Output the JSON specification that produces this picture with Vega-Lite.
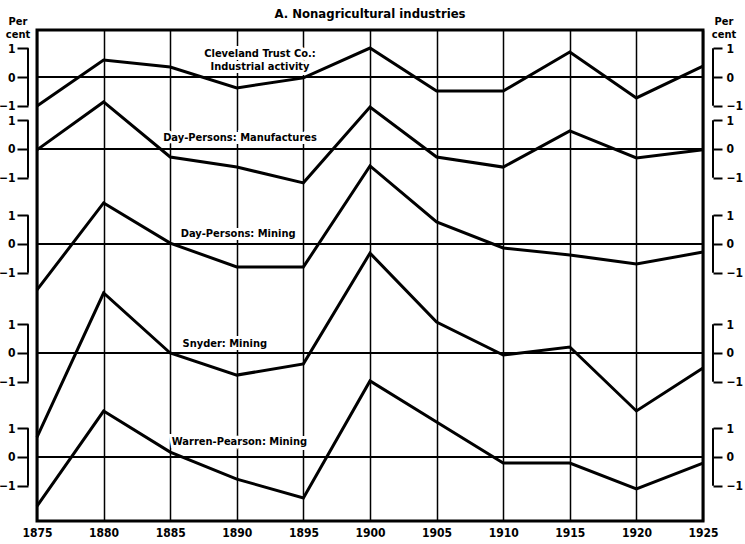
{
  "$schema": "https://vega.github.io/schema/vega-lite/v6.json",
  "width": 666,
  "height": 491,
  "autosize": {"type": "none"},
  "padding": {"left": 37, "top": 30, "right": 42, "bottom": 23},
  "background": "white",
  "title": {"text": "A. Nonagricultural industries", "anchor": "middle", "frame": "group", "offset": -5, "font": "DejaVu Sans Condensed", "fontSize": 13, "fontWeight": "bold", "color": "black"},
  "config": {
    "view": {"stroke": "black", "strokeWidth": 3},
    "axis": {"labelFont": "DejaVu Sans Condensed", "labelFontWeight": "bold", "labelColor": "black", "labelFontSize": 12, "tickColor": "black"},
    "text": {"font": "DejaVu Sans Condensed", "fontWeight": "bold", "color": "black"}
  },
  "data": {"values": [
    {"series": "Cleveland", "year": 1875, "value": -1.01},
    {"series": "Cleveland", "year": 1880, "value": 0.59},
    {"series": "Cleveland", "year": 1885, "value": 0.35},
    {"series": "Cleveland", "year": 1890, "value": -0.38},
    {"series": "Cleveland", "year": 1895, "value": -0.03},
    {"series": "Cleveland", "year": 1900, "value": 1.01},
    {"series": "Cleveland", "year": 1905, "value": -0.49},
    {"series": "Cleveland", "year": 1910, "value": -0.49},
    {"series": "Cleveland", "year": 1915, "value": 0.87},
    {"series": "Cleveland", "year": 1920, "value": -0.73},
    {"series": "Cleveland", "year": 1925, "value": 0.38},
    {"series": "DPManufactures", "year": 1875, "value": -0.03},
    {"series": "DPManufactures", "year": 1880, "value": 1.64},
    {"series": "DPManufactures", "year": 1885, "value": -0.28},
    {"series": "DPManufactures", "year": 1890, "value": -0.63},
    {"series": "DPManufactures", "year": 1895, "value": -1.18},
    {"series": "DPManufactures", "year": 1900, "value": 1.46},
    {"series": "DPManufactures", "year": 1905, "value": -0.28},
    {"series": "DPManufactures", "year": 1910, "value": -0.63},
    {"series": "DPManufactures", "year": 1915, "value": 0.63},
    {"series": "DPManufactures", "year": 1920, "value": -0.31},
    {"series": "DPManufactures", "year": 1925, "value": -0.03},
    {"series": "DPMining", "year": 1875, "value": -1.6},
    {"series": "DPMining", "year": 1880, "value": 1.43},
    {"series": "DPMining", "year": 1885, "value": 0.03},
    {"series": "DPMining", "year": 1890, "value": -0.8},
    {"series": "DPMining", "year": 1895, "value": -0.8},
    {"series": "DPMining", "year": 1900, "value": 2.72},
    {"series": "DPMining", "year": 1905, "value": 0.77},
    {"series": "DPMining", "year": 1910, "value": -0.14},
    {"series": "DPMining", "year": 1915, "value": -0.38},
    {"series": "DPMining", "year": 1920, "value": -0.7},
    {"series": "DPMining", "year": 1925, "value": -0.28},
    {"series": "Snyder", "year": 1875, "value": -2.93},
    {"series": "Snyder", "year": 1880, "value": 2.09},
    {"series": "Snyder", "year": 1885, "value": 0.0},
    {"series": "Snyder", "year": 1890, "value": -0.77},
    {"series": "Snyder", "year": 1895, "value": -0.38},
    {"series": "Snyder", "year": 1900, "value": 3.48},
    {"series": "Snyder", "year": 1905, "value": 1.08},
    {"series": "Snyder", "year": 1910, "value": -0.07},
    {"series": "Snyder", "year": 1915, "value": 0.21},
    {"series": "Snyder", "year": 1920, "value": -2.02},
    {"series": "Snyder", "year": 1925, "value": -0.52},
    {"series": "Warren", "year": 1875, "value": -1.71},
    {"series": "Warren", "year": 1880, "value": 1.6},
    {"series": "Warren", "year": 1885, "value": 0.17},
    {"series": "Warren", "year": 1890, "value": -0.77},
    {"series": "Warren", "year": 1895, "value": -1.43},
    {"series": "Warren", "year": 1900, "value": 2.65},
    {"series": "Warren", "year": 1905, "value": 1.22},
    {"series": "Warren", "year": 1910, "value": -0.21},
    {"series": "Warren", "year": 1915, "value": -0.21},
    {"series": "Warren", "year": 1920, "value": -1.11},
    {"series": "Warren", "year": 1925, "value": -0.21}
  ]},
  "layer": [
    {
      "layer": [
        {"data": {"values": [{}]}, "mark": {"type": "text", "fontSize": 11, "lineHeight": 12.5, "align": "center", "baseline": "alphabetic", "dx": -19},
         "encoding": {"x": {"datum": 1875, "type": "quantitative", "scale": {"domain": [1875, 1925], "nice": false, "zero": false}, "axis": {"values": [1875, 1880, 1885, 1890, 1895, 1900, 1905, 1910, 1915, 1920, 1925], "format": "d", "grid": true, "gridColor": "black", "gridWidth": 1.5, "gridOpacity": 1, "domain": false, "ticks": false, "labelPadding": 6, "labelFlush": false, "title": null}},
                      "y": {"datum": 1.81, "type": "quantitative", "scale": {"domain": [-15.47, 1.6376], "nice": false, "zero": false}, "axis": null},
                      "text": {"value": ["Per", "cent"]}}},
        {"data": {"values": [{}]}, "mark": {"type": "text", "fontSize": 11, "lineHeight": 12.5, "align": "center", "baseline": "alphabetic", "dx": 21},
         "encoding": {"x": {"datum": 1925, "type": "quantitative", "scale": {"domain": [1875, 1925], "nice": false, "zero": false}, "axis": {"values": [1875, 1880, 1885, 1890, 1895, 1900, 1905, 1910, 1915, 1920, 1925], "format": "d", "grid": true, "gridColor": "black", "gridWidth": 1.5, "gridOpacity": 1, "domain": false, "ticks": false, "labelPadding": 6, "labelFlush": false, "title": null}},
                      "y": {"datum": 1.81, "type": "quantitative", "scale": {"domain": [-15.47, 1.6376], "nice": false, "zero": false}, "axis": null},
                      "text": {"value": ["Per", "cent"]}}},
        {"data": {"values": [{}]}, "mark": {"type": "text", "fontSize": 11, "lineHeight": 13, "align": "center", "baseline": "alphabetic", "stroke": "white", "strokeWidth": 6},
         "encoding": {"x": {"datum": 1891.74, "type": "quantitative", "scale": {"domain": [1875, 1925], "nice": false, "zero": false}, "axis": {"values": [1875, 1880, 1885, 1890, 1895, 1900, 1905, 1910, 1915, 1920, 1925], "format": "d", "grid": true, "gridColor": "black", "gridWidth": 1.5, "gridOpacity": 1, "domain": false, "ticks": false, "labelPadding": 6, "labelFlush": false, "title": null}},
                      "y": {"datum": 0.7, "type": "quantitative", "scale": {"domain": [-15.47, 1.6376], "nice": false, "zero": false}, "axis": null},
                      "text": {"value": ["Cleveland Trust Co.:", "Industrial activity"]}}},
        {"data": {"values": [{}]}, "mark": {"type": "text", "fontSize": 11, "lineHeight": 13, "align": "center", "baseline": "alphabetic"},
         "encoding": {"x": {"datum": 1891.74, "type": "quantitative", "scale": {"domain": [1875, 1925], "nice": false, "zero": false}, "axis": {"values": [1875, 1880, 1885, 1890, 1895, 1900, 1905, 1910, 1915, 1920, 1925], "format": "d", "grid": true, "gridColor": "black", "gridWidth": 1.5, "gridOpacity": 1, "domain": false, "ticks": false, "labelPadding": 6, "labelFlush": false, "title": null}},
                      "y": {"datum": 0.7, "type": "quantitative", "scale": {"domain": [-15.47, 1.6376], "nice": false, "zero": false}, "axis": null},
                      "text": {"value": ["Cleveland Trust Co.:", "Industrial activity"]}}},
        {"data": {"values": [{}]}, "mark": {"type": "rule", "color": "black", "strokeWidth": 2},
         "encoding": {"y": {"datum": 0, "type": "quantitative", "scale": {"domain": [-15.47, 1.6376], "nice": false, "zero": false}, "axis": null}}},
        {"data": {"values": [{}]}, "mark": {"type": "rule", "color": "black", "strokeWidth": 2, "xOffset": -9},
         "encoding": {"x": {"datum": 1875, "type": "quantitative", "scale": {"domain": [1875, 1925], "nice": false, "zero": false}, "axis": {"values": [1875, 1880, 1885, 1890, 1895, 1900, 1905, 1910, 1915, 1920, 1925], "format": "d", "grid": true, "gridColor": "black", "gridWidth": 1.5, "gridOpacity": 1, "domain": false, "ticks": false, "labelPadding": 6, "labelFlush": false, "title": null}},
                      "y": {"datum": -1, "type": "quantitative", "scale": {"domain": [-15.47, 1.6376], "nice": false, "zero": false}, "axis": {"orient": "left", "offset": 9, "values": [-1, 0, 1], "domain": false, "grid": false, "ticks": true, "tickSize": 11, "tickWidth": 2, "labelPadding": 2, "labelFlush": false, "labelOverlap": false, "title": null}},
                      "y2": {"datum": 1}}},
        {"data": {"values": [{}]}, "mark": {"type": "rule", "color": "black", "strokeWidth": 2, "xOffset": 10},
         "encoding": {"x": {"datum": 1925, "type": "quantitative", "scale": {"domain": [1875, 1925], "nice": false, "zero": false}, "axis": {"values": [1875, 1880, 1885, 1890, 1895, 1900, 1905, 1910, 1915, 1920, 1925], "format": "d", "grid": true, "gridColor": "black", "gridWidth": 1.5, "gridOpacity": 1, "domain": false, "ticks": false, "labelPadding": 6, "labelFlush": false, "title": null}},
                      "y": {"datum": -1, "type": "quantitative", "scale": {"domain": [-15.47, 1.6376], "nice": false, "zero": false}, "axis": {"orient": "right", "offset": 10, "values": [-1, 0, 1], "domain": false, "grid": false, "ticks": true, "tickSize": 9, "tickWidth": 2, "labelPadding": 4, "labelFlush": false, "labelOverlap": false, "title": null}},
                      "y2": {"datum": 1}}},
        {"transform": [{"filter": "datum.series === 'Cleveland'"}], "mark": {"type": "line", "color": "black", "strokeWidth": 3, "strokeJoin": "miter"},
         "encoding": {"x": {"field": "year", "type": "quantitative", "scale": {"domain": [1875, 1925], "nice": false, "zero": false}, "axis": {"values": [1875, 1880, 1885, 1890, 1895, 1900, 1905, 1910, 1915, 1920, 1925], "format": "d", "grid": true, "gridColor": "black", "gridWidth": 1.5, "gridOpacity": 1, "domain": false, "ticks": false, "labelPadding": 6, "labelFlush": false, "title": null}},
                      "y": {"field": "value", "type": "quantitative", "scale": {"domain": [-15.47, 1.6376], "nice": false, "zero": false}, "axis": null}}}
      ],
      "resolve": {"scale": {"y": "shared"}, "axis": {"y": "independent"}}
    },
    {
      "layer": [
        {"data": {"values": [{}]}, "mark": {"type": "text", "fontSize": 11, "align": "center", "baseline": "alphabetic", "stroke": "white", "strokeWidth": 6},
         "encoding": {"x": {"datum": 1890.24, "type": "quantitative", "scale": {"domain": [1875, 1925], "nice": false, "zero": false}, "axis": {"values": [1875, 1880, 1885, 1890, 1895, 1900, 1905, 1910, 1915, 1920, 1925], "format": "d", "grid": true, "gridColor": "black", "gridWidth": 1.5, "gridOpacity": 1, "domain": false, "ticks": false, "labelPadding": 6, "labelFlush": false, "title": null}},
                      "y": {"datum": 0.28, "type": "quantitative", "scale": {"domain": [-12.962, 4.146], "nice": false, "zero": false}, "axis": null},
                      "text": {"value": "Day-Persons: Manufactures"}}},
        {"data": {"values": [{}]}, "mark": {"type": "text", "fontSize": 11, "align": "center", "baseline": "alphabetic"},
         "encoding": {"x": {"datum": 1890.24, "type": "quantitative", "scale": {"domain": [1875, 1925], "nice": false, "zero": false}, "axis": {"values": [1875, 1880, 1885, 1890, 1895, 1900, 1905, 1910, 1915, 1920, 1925], "format": "d", "grid": true, "gridColor": "black", "gridWidth": 1.5, "gridOpacity": 1, "domain": false, "ticks": false, "labelPadding": 6, "labelFlush": false, "title": null}},
                      "y": {"datum": 0.28, "type": "quantitative", "scale": {"domain": [-12.962, 4.146], "nice": false, "zero": false}, "axis": null},
                      "text": {"value": "Day-Persons: Manufactures"}}},
        {"data": {"values": [{}]}, "mark": {"type": "rule", "color": "black", "strokeWidth": 2},
         "encoding": {"y": {"datum": 0, "type": "quantitative", "scale": {"domain": [-12.962, 4.146], "nice": false, "zero": false}, "axis": null}}},
        {"data": {"values": [{}]}, "mark": {"type": "rule", "color": "black", "strokeWidth": 2, "xOffset": -9},
         "encoding": {"x": {"datum": 1875, "type": "quantitative", "scale": {"domain": [1875, 1925], "nice": false, "zero": false}, "axis": {"values": [1875, 1880, 1885, 1890, 1895, 1900, 1905, 1910, 1915, 1920, 1925], "format": "d", "grid": true, "gridColor": "black", "gridWidth": 1.5, "gridOpacity": 1, "domain": false, "ticks": false, "labelPadding": 6, "labelFlush": false, "title": null}},
                      "y": {"datum": -1, "type": "quantitative", "scale": {"domain": [-12.962, 4.146], "nice": false, "zero": false}, "axis": {"orient": "left", "offset": 9, "values": [-1, 0, 1], "domain": false, "grid": false, "ticks": true, "tickSize": 11, "tickWidth": 2, "labelPadding": 2, "labelFlush": false, "labelOverlap": false, "title": null}},
                      "y2": {"datum": 1}}},
        {"data": {"values": [{}]}, "mark": {"type": "rule", "color": "black", "strokeWidth": 2, "xOffset": 10},
         "encoding": {"x": {"datum": 1925, "type": "quantitative", "scale": {"domain": [1875, 1925], "nice": false, "zero": false}, "axis": {"values": [1875, 1880, 1885, 1890, 1895, 1900, 1905, 1910, 1915, 1920, 1925], "format": "d", "grid": true, "gridColor": "black", "gridWidth": 1.5, "gridOpacity": 1, "domain": false, "ticks": false, "labelPadding": 6, "labelFlush": false, "title": null}},
                      "y": {"datum": -1, "type": "quantitative", "scale": {"domain": [-12.962, 4.146], "nice": false, "zero": false}, "axis": {"orient": "right", "offset": 10, "values": [-1, 0, 1], "domain": false, "grid": false, "ticks": true, "tickSize": 9, "tickWidth": 2, "labelPadding": 4, "labelFlush": false, "labelOverlap": false, "title": null}},
                      "y2": {"datum": 1}}},
        {"transform": [{"filter": "datum.series === 'DPManufactures'"}], "mark": {"type": "line", "color": "black", "strokeWidth": 3, "strokeJoin": "miter"},
         "encoding": {"x": {"field": "year", "type": "quantitative", "scale": {"domain": [1875, 1925], "nice": false, "zero": false}, "axis": {"values": [1875, 1880, 1885, 1890, 1895, 1900, 1905, 1910, 1915, 1920, 1925], "format": "d", "grid": true, "gridColor": "black", "gridWidth": 1.5, "gridOpacity": 1, "domain": false, "ticks": false, "labelPadding": 6, "labelFlush": false, "title": null}},
                      "y": {"field": "value", "type": "quantitative", "scale": {"domain": [-12.962, 4.146], "nice": false, "zero": false}, "axis": null}}}
      ],
      "resolve": {"scale": {"y": "shared"}, "axis": {"y": "independent"}}
    },
    {
      "layer": [
        {"data": {"values": [{}]}, "mark": {"type": "text", "fontSize": 11, "align": "center", "baseline": "alphabetic", "stroke": "white", "strokeWidth": 6},
         "encoding": {"x": {"datum": 1890.1, "type": "quantitative", "scale": {"domain": [1875, 1925], "nice": false, "zero": false}, "axis": {"values": [1875, 1880, 1885, 1890, 1895, 1900, 1905, 1910, 1915, 1920, 1925], "format": "d", "grid": true, "gridColor": "black", "gridWidth": 1.5, "gridOpacity": 1, "domain": false, "ticks": false, "labelPadding": 6, "labelFlush": false, "title": null}},
                      "y": {"datum": 0.24, "type": "quantitative", "scale": {"domain": [-9.652, 7.456], "nice": false, "zero": false}, "axis": null},
                      "text": {"value": "Day-Persons: Mining"}}},
        {"data": {"values": [{}]}, "mark": {"type": "text", "fontSize": 11, "align": "center", "baseline": "alphabetic"},
         "encoding": {"x": {"datum": 1890.1, "type": "quantitative", "scale": {"domain": [1875, 1925], "nice": false, "zero": false}, "axis": {"values": [1875, 1880, 1885, 1890, 1895, 1900, 1905, 1910, 1915, 1920, 1925], "format": "d", "grid": true, "gridColor": "black", "gridWidth": 1.5, "gridOpacity": 1, "domain": false, "ticks": false, "labelPadding": 6, "labelFlush": false, "title": null}},
                      "y": {"datum": 0.24, "type": "quantitative", "scale": {"domain": [-9.652, 7.456], "nice": false, "zero": false}, "axis": null},
                      "text": {"value": "Day-Persons: Mining"}}},
        {"data": {"values": [{}]}, "mark": {"type": "rule", "color": "black", "strokeWidth": 2},
         "encoding": {"y": {"datum": 0, "type": "quantitative", "scale": {"domain": [-9.652, 7.456], "nice": false, "zero": false}, "axis": null}}},
        {"data": {"values": [{}]}, "mark": {"type": "rule", "color": "black", "strokeWidth": 2, "xOffset": -9},
         "encoding": {"x": {"datum": 1875, "type": "quantitative", "scale": {"domain": [1875, 1925], "nice": false, "zero": false}, "axis": {"values": [1875, 1880, 1885, 1890, 1895, 1900, 1905, 1910, 1915, 1920, 1925], "format": "d", "grid": true, "gridColor": "black", "gridWidth": 1.5, "gridOpacity": 1, "domain": false, "ticks": false, "labelPadding": 6, "labelFlush": false, "title": null}},
                      "y": {"datum": -1, "type": "quantitative", "scale": {"domain": [-9.652, 7.456], "nice": false, "zero": false}, "axis": {"orient": "left", "offset": 9, "values": [-1, 0, 1], "domain": false, "grid": false, "ticks": true, "tickSize": 11, "tickWidth": 2, "labelPadding": 2, "labelFlush": false, "labelOverlap": false, "title": null}},
                      "y2": {"datum": 1}}},
        {"data": {"values": [{}]}, "mark": {"type": "rule", "color": "black", "strokeWidth": 2, "xOffset": 10},
         "encoding": {"x": {"datum": 1925, "type": "quantitative", "scale": {"domain": [1875, 1925], "nice": false, "zero": false}, "axis": {"values": [1875, 1880, 1885, 1890, 1895, 1900, 1905, 1910, 1915, 1920, 1925], "format": "d", "grid": true, "gridColor": "black", "gridWidth": 1.5, "gridOpacity": 1, "domain": false, "ticks": false, "labelPadding": 6, "labelFlush": false, "title": null}},
                      "y": {"datum": -1, "type": "quantitative", "scale": {"domain": [-9.652, 7.456], "nice": false, "zero": false}, "axis": {"orient": "right", "offset": 10, "values": [-1, 0, 1], "domain": false, "grid": false, "ticks": true, "tickSize": 9, "tickWidth": 2, "labelPadding": 4, "labelFlush": false, "labelOverlap": false, "title": null}},
                      "y2": {"datum": 1}}},
        {"transform": [{"filter": "datum.series === 'DPMining'"}], "mark": {"type": "line", "color": "black", "strokeWidth": 3, "strokeJoin": "miter"},
         "encoding": {"x": {"field": "year", "type": "quantitative", "scale": {"domain": [1875, 1925], "nice": false, "zero": false}, "axis": {"values": [1875, 1880, 1885, 1890, 1895, 1900, 1905, 1910, 1915, 1920, 1925], "format": "d", "grid": true, "gridColor": "black", "gridWidth": 1.5, "gridOpacity": 1, "domain": false, "ticks": false, "labelPadding": 6, "labelFlush": false, "title": null}},
                      "y": {"field": "value", "type": "quantitative", "scale": {"domain": [-9.652, 7.456], "nice": false, "zero": false}, "axis": null}}}
      ],
      "resolve": {"scale": {"y": "shared"}, "axis": {"y": "independent"}}
    },
    {
      "layer": [
        {"data": {"values": [{}]}, "mark": {"type": "text", "fontSize": 11, "align": "center", "baseline": "alphabetic", "stroke": "white", "strokeWidth": 6},
         "encoding": {"x": {"datum": 1889.1, "type": "quantitative", "scale": {"domain": [1875, 1925], "nice": false, "zero": false}, "axis": {"values": [1875, 1880, 1885, 1890, 1895, 1900, 1905, 1910, 1915, 1920, 1925], "format": "d", "grid": true, "gridColor": "black", "gridWidth": 1.5, "gridOpacity": 1, "domain": false, "ticks": false, "labelPadding": 6, "labelFlush": false, "title": null}},
                      "y": {"datum": 0.21, "type": "quantitative", "scale": {"domain": [-5.854, 11.254], "nice": false, "zero": false}, "axis": null},
                      "text": {"value": "Snyder: Mining"}}},
        {"data": {"values": [{}]}, "mark": {"type": "text", "fontSize": 11, "align": "center", "baseline": "alphabetic"},
         "encoding": {"x": {"datum": 1889.1, "type": "quantitative", "scale": {"domain": [1875, 1925], "nice": false, "zero": false}, "axis": {"values": [1875, 1880, 1885, 1890, 1895, 1900, 1905, 1910, 1915, 1920, 1925], "format": "d", "grid": true, "gridColor": "black", "gridWidth": 1.5, "gridOpacity": 1, "domain": false, "ticks": false, "labelPadding": 6, "labelFlush": false, "title": null}},
                      "y": {"datum": 0.21, "type": "quantitative", "scale": {"domain": [-5.854, 11.254], "nice": false, "zero": false}, "axis": null},
                      "text": {"value": "Snyder: Mining"}}},
        {"data": {"values": [{}]}, "mark": {"type": "rule", "color": "black", "strokeWidth": 2},
         "encoding": {"y": {"datum": 0, "type": "quantitative", "scale": {"domain": [-5.854, 11.254], "nice": false, "zero": false}, "axis": null}}},
        {"data": {"values": [{}]}, "mark": {"type": "rule", "color": "black", "strokeWidth": 2, "xOffset": -9},
         "encoding": {"x": {"datum": 1875, "type": "quantitative", "scale": {"domain": [1875, 1925], "nice": false, "zero": false}, "axis": {"values": [1875, 1880, 1885, 1890, 1895, 1900, 1905, 1910, 1915, 1920, 1925], "format": "d", "grid": true, "gridColor": "black", "gridWidth": 1.5, "gridOpacity": 1, "domain": false, "ticks": false, "labelPadding": 6, "labelFlush": false, "title": null}},
                      "y": {"datum": -1, "type": "quantitative", "scale": {"domain": [-5.854, 11.254], "nice": false, "zero": false}, "axis": {"orient": "left", "offset": 9, "values": [-1, 0, 1], "domain": false, "grid": false, "ticks": true, "tickSize": 11, "tickWidth": 2, "labelPadding": 2, "labelFlush": false, "labelOverlap": false, "title": null}},
                      "y2": {"datum": 1}}},
        {"data": {"values": [{}]}, "mark": {"type": "rule", "color": "black", "strokeWidth": 2, "xOffset": 10},
         "encoding": {"x": {"datum": 1925, "type": "quantitative", "scale": {"domain": [1875, 1925], "nice": false, "zero": false}, "axis": {"values": [1875, 1880, 1885, 1890, 1895, 1900, 1905, 1910, 1915, 1920, 1925], "format": "d", "grid": true, "gridColor": "black", "gridWidth": 1.5, "gridOpacity": 1, "domain": false, "ticks": false, "labelPadding": 6, "labelFlush": false, "title": null}},
                      "y": {"datum": -1, "type": "quantitative", "scale": {"domain": [-5.854, 11.254], "nice": false, "zero": false}, "axis": {"orient": "right", "offset": 10, "values": [-1, 0, 1], "domain": false, "grid": false, "ticks": true, "tickSize": 9, "tickWidth": 2, "labelPadding": 4, "labelFlush": false, "labelOverlap": false, "title": null}},
                      "y2": {"datum": 1}}},
        {"transform": [{"filter": "datum.series === 'Snyder'"}], "mark": {"type": "line", "color": "black", "strokeWidth": 3, "strokeJoin": "miter"},
         "encoding": {"x": {"field": "year", "type": "quantitative", "scale": {"domain": [1875, 1925], "nice": false, "zero": false}, "axis": {"values": [1875, 1880, 1885, 1890, 1895, 1900, 1905, 1910, 1915, 1920, 1925], "format": "d", "grid": true, "gridColor": "black", "gridWidth": 1.5, "gridOpacity": 1, "domain": false, "ticks": false, "labelPadding": 6, "labelFlush": false, "title": null}},
                      "y": {"field": "value", "type": "quantitative", "scale": {"domain": [-5.854, 11.254], "nice": false, "zero": false}, "axis": null}}}
      ],
      "resolve": {"scale": {"y": "shared"}, "axis": {"y": "independent"}}
    },
    {
      "layer": [
        {"data": {"values": [{}]}, "mark": {"type": "text", "fontSize": 11, "align": "center", "baseline": "alphabetic", "stroke": "white", "strokeWidth": 6},
         "encoding": {"x": {"datum": 1890.2, "type": "quantitative", "scale": {"domain": [1875, 1925], "nice": false, "zero": false}, "axis": {"values": [1875, 1880, 1885, 1890, 1895, 1900, 1905, 1910, 1915, 1920, 1925], "format": "d", "grid": true, "gridColor": "black", "gridWidth": 1.5, "gridOpacity": 1, "domain": false, "ticks": false, "labelPadding": 6, "labelFlush": false, "title": null}},
                      "y": {"datum": 0.42, "type": "quantitative", "scale": {"domain": [-2.23, 14.878], "nice": false, "zero": false}, "axis": null},
                      "text": {"value": "Warren-Pearson: Mining"}}},
        {"data": {"values": [{}]}, "mark": {"type": "text", "fontSize": 11, "align": "center", "baseline": "alphabetic"},
         "encoding": {"x": {"datum": 1890.2, "type": "quantitative", "scale": {"domain": [1875, 1925], "nice": false, "zero": false}, "axis": {"values": [1875, 1880, 1885, 1890, 1895, 1900, 1905, 1910, 1915, 1920, 1925], "format": "d", "grid": true, "gridColor": "black", "gridWidth": 1.5, "gridOpacity": 1, "domain": false, "ticks": false, "labelPadding": 6, "labelFlush": false, "title": null}},
                      "y": {"datum": 0.42, "type": "quantitative", "scale": {"domain": [-2.23, 14.878], "nice": false, "zero": false}, "axis": null},
                      "text": {"value": "Warren-Pearson: Mining"}}},
        {"data": {"values": [{}]}, "mark": {"type": "rule", "color": "black", "strokeWidth": 2},
         "encoding": {"y": {"datum": 0, "type": "quantitative", "scale": {"domain": [-2.23, 14.878], "nice": false, "zero": false}, "axis": null}}},
        {"data": {"values": [{}]}, "mark": {"type": "rule", "color": "black", "strokeWidth": 2, "xOffset": -9},
         "encoding": {"x": {"datum": 1875, "type": "quantitative", "scale": {"domain": [1875, 1925], "nice": false, "zero": false}, "axis": {"values": [1875, 1880, 1885, 1890, 1895, 1900, 1905, 1910, 1915, 1920, 1925], "format": "d", "grid": true, "gridColor": "black", "gridWidth": 1.5, "gridOpacity": 1, "domain": false, "ticks": false, "labelPadding": 6, "labelFlush": false, "title": null}},
                      "y": {"datum": -1, "type": "quantitative", "scale": {"domain": [-2.23, 14.878], "nice": false, "zero": false}, "axis": {"orient": "left", "offset": 9, "values": [-1, 0, 1], "domain": false, "grid": false, "ticks": true, "tickSize": 11, "tickWidth": 2, "labelPadding": 2, "labelFlush": false, "labelOverlap": false, "title": null}},
                      "y2": {"datum": 1}}},
        {"data": {"values": [{}]}, "mark": {"type": "rule", "color": "black", "strokeWidth": 2, "xOffset": 10},
         "encoding": {"x": {"datum": 1925, "type": "quantitative", "scale": {"domain": [1875, 1925], "nice": false, "zero": false}, "axis": {"values": [1875, 1880, 1885, 1890, 1895, 1900, 1905, 1910, 1915, 1920, 1925], "format": "d", "grid": true, "gridColor": "black", "gridWidth": 1.5, "gridOpacity": 1, "domain": false, "ticks": false, "labelPadding": 6, "labelFlush": false, "title": null}},
                      "y": {"datum": -1, "type": "quantitative", "scale": {"domain": [-2.23, 14.878], "nice": false, "zero": false}, "axis": {"orient": "right", "offset": 10, "values": [-1, 0, 1], "domain": false, "grid": false, "ticks": true, "tickSize": 9, "tickWidth": 2, "labelPadding": 4, "labelFlush": false, "labelOverlap": false, "title": null}},
                      "y2": {"datum": 1}}},
        {"transform": [{"filter": "datum.series === 'Warren'"}], "mark": {"type": "line", "color": "black", "strokeWidth": 3, "strokeJoin": "miter"},
         "encoding": {"x": {"field": "year", "type": "quantitative", "scale": {"domain": [1875, 1925], "nice": false, "zero": false}, "axis": {"values": [1875, 1880, 1885, 1890, 1895, 1900, 1905, 1910, 1915, 1920, 1925], "format": "d", "grid": true, "gridColor": "black", "gridWidth": 1.5, "gridOpacity": 1, "domain": false, "ticks": false, "labelPadding": 6, "labelFlush": false, "title": null}},
                      "y": {"field": "value", "type": "quantitative", "scale": {"domain": [-2.23, 14.878], "nice": false, "zero": false}, "axis": null}}}
      ],
      "resolve": {"scale": {"y": "shared"}, "axis": {"y": "independent"}}
    }
  ],
  "resolve": {"scale": {"y": "independent"}, "axis": {"y": "independent"}}
}
